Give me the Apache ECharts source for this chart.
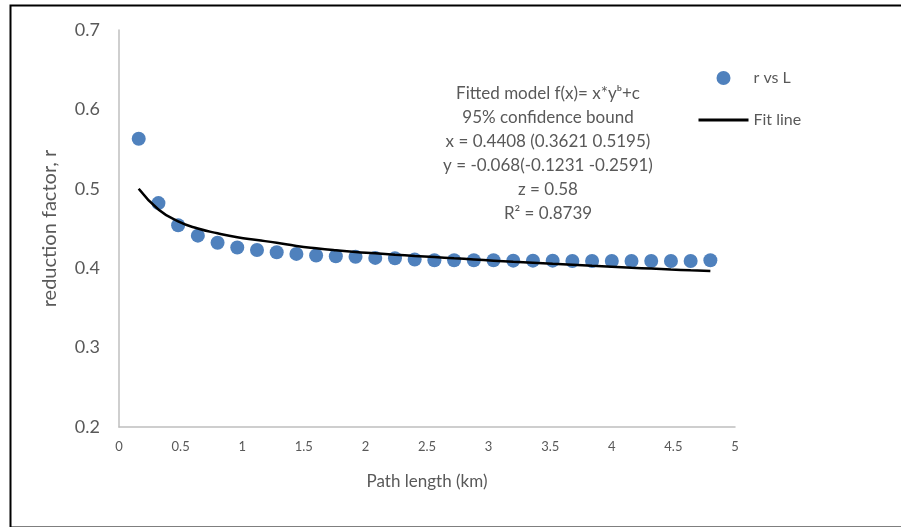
<!DOCTYPE html>
<html>
<head>
<meta charset="utf-8">
<script src="https://cdn.jsdelivr.net/npm/echarts@6/dist/echarts.min.js"></script>
<style>
  html, body { margin: 0; padding: 0; background: #fff; }
  #chart { width: 901px; height: 527px; }
</style>
</head>
<body>
<div id="chart"></div>
<script>
// path length (km)
var pathLength = [0.16, 0.32, 0.48, 0.64, 0.80, 0.96, 1.12, 1.28, 1.44, 1.60,
  1.76, 1.92, 2.08, 2.24, 2.40, 2.56, 2.72, 2.88, 3.04, 3.20,
  3.36, 3.52, 3.68, 3.84, 4.00, 4.16, 4.32, 4.48, 4.64, 4.80];
// measured reduction factor r
var rValues = [0.563, 0.482, 0.454, 0.441, 0.432, 0.426, 0.423, 0.420, 0.418, 0.416,
  0.415, 0.4145, 0.413, 0.4125, 0.411, 0.410, 0.410, 0.410, 0.410, 0.4095,
  0.4095, 0.4095, 0.409, 0.409, 0.409, 0.409, 0.409, 0.409, 0.409, 0.410];
// fitted curve
var fitValues = [0.500, 0.474, 0.459, 0.450, 0.444, 0.439, 0.4355, 0.432, 0.428, 0.425,
  0.4225, 0.4204, 0.4188, 0.417, 0.4154, 0.414, 0.4125, 0.411, 0.4095, 0.408,
  0.4068, 0.4055, 0.4043, 0.403, 0.4018, 0.4006, 0.3995, 0.3984, 0.3974, 0.3965];
var noteLines = [
  "Fitted model f(x)= x*y\u1d47+c",
  "95% confidence bound",
  "x = 0.4408 (0.3621 0.5195)",
  "y = -0.068(-0.1231 -0.2591)",
  "z = 0.58",
  "R\u00b2 = 0.8739"
];

var font = "Lato, 'Open Sans', sans-serif";
var grey = "#595959";

var scatterData = pathLength.map(function (x, i) { return [x, rValues[i]]; });
var fitData = pathLength.map(function (x, i) { return [x, fitValues[i]]; });

var myChart = echarts.init(document.getElementById("chart"));
var option = {
  animation: false,
  grid: { left: 119, right: 166, top: 30, bottom: 100 },
  xAxis: {
    type: "value",
    min: 0, max: 5, interval: 0.5,
    name: "Path length (km)",
    nameLocation: "middle",
    nameGap: 46,
    nameTextStyle: { color: grey, fontSize: 17, fontFamily: font },
    axisLine: { show: true, lineStyle: { color: "#bfbfbf", width: 1.5 } },
    axisTick: { show: false },
    splitLine: { show: false },
    axisLabel: { color: grey, fontSize: 13, fontFamily: font, margin: 13 }
  },
  yAxis: {
    type: "value",
    min: 0.2, max: 0.7, interval: 0.1,
    name: "reduction factor, r",
    nameLocation: "middle",
    nameGap: 59,
    nameTextStyle: { color: grey, fontSize: 20, fontFamily: font },
    axisLine: { show: true, lineStyle: { color: "#bfbfbf", width: 1.5 } },
    axisTick: { show: false },
    splitLine: { show: false },
    axisLabel: {
      color: grey, fontSize: 18, fontFamily: font, margin: 19,
      formatter: function (v) { return v.toFixed(1); }
    }
  },
  legend: {
    orient: "vertical",
    left: 697, top: 70,
    padding: 0,
    itemWidth: 50, itemHeight: 14, itemGap: 26,
    textStyle: { color: grey, fontSize: 16, fontFamily: font },
    data: [
      { name: "r vs L", icon: "circle" },
      { name: "Fit line", itemStyle: { opacity: 0 }, lineStyle: { width: 3 } }
    ]
  },
  series: [
    {
      name: "r vs L",
      type: "scatter",
      data: scatterData,
      symbolSize: 14,
      itemStyle: { color: "#4f81bd", opacity: 1 }
    },
    {
      name: "Fit line",
      type: "line",
      data: fitData,
      smooth: true,
      symbol: "none",
      lineStyle: { color: "#000", width: 2.5 },
      itemStyle: { color: "#000" }
    }
  ],
  graphic: [
    {
      type: "rect",
      left: 8, top: 3,
      shape: { width: 900, height: 522 },
      style: { fill: "none", stroke: "#000", lineWidth: 2 },
      silent: true
    },
    {
      type: "text",
      x: 548, y: 82,
      style: {
        text: noteLines.join("\n"),
        fill: grey,
        font: "17px " + font,
        lineHeight: 24,
        align: "center",
        verticalAlign: "top"
      }
    }
  ]
};
myChart.setOption(option);
</script>
</body>
</html>
